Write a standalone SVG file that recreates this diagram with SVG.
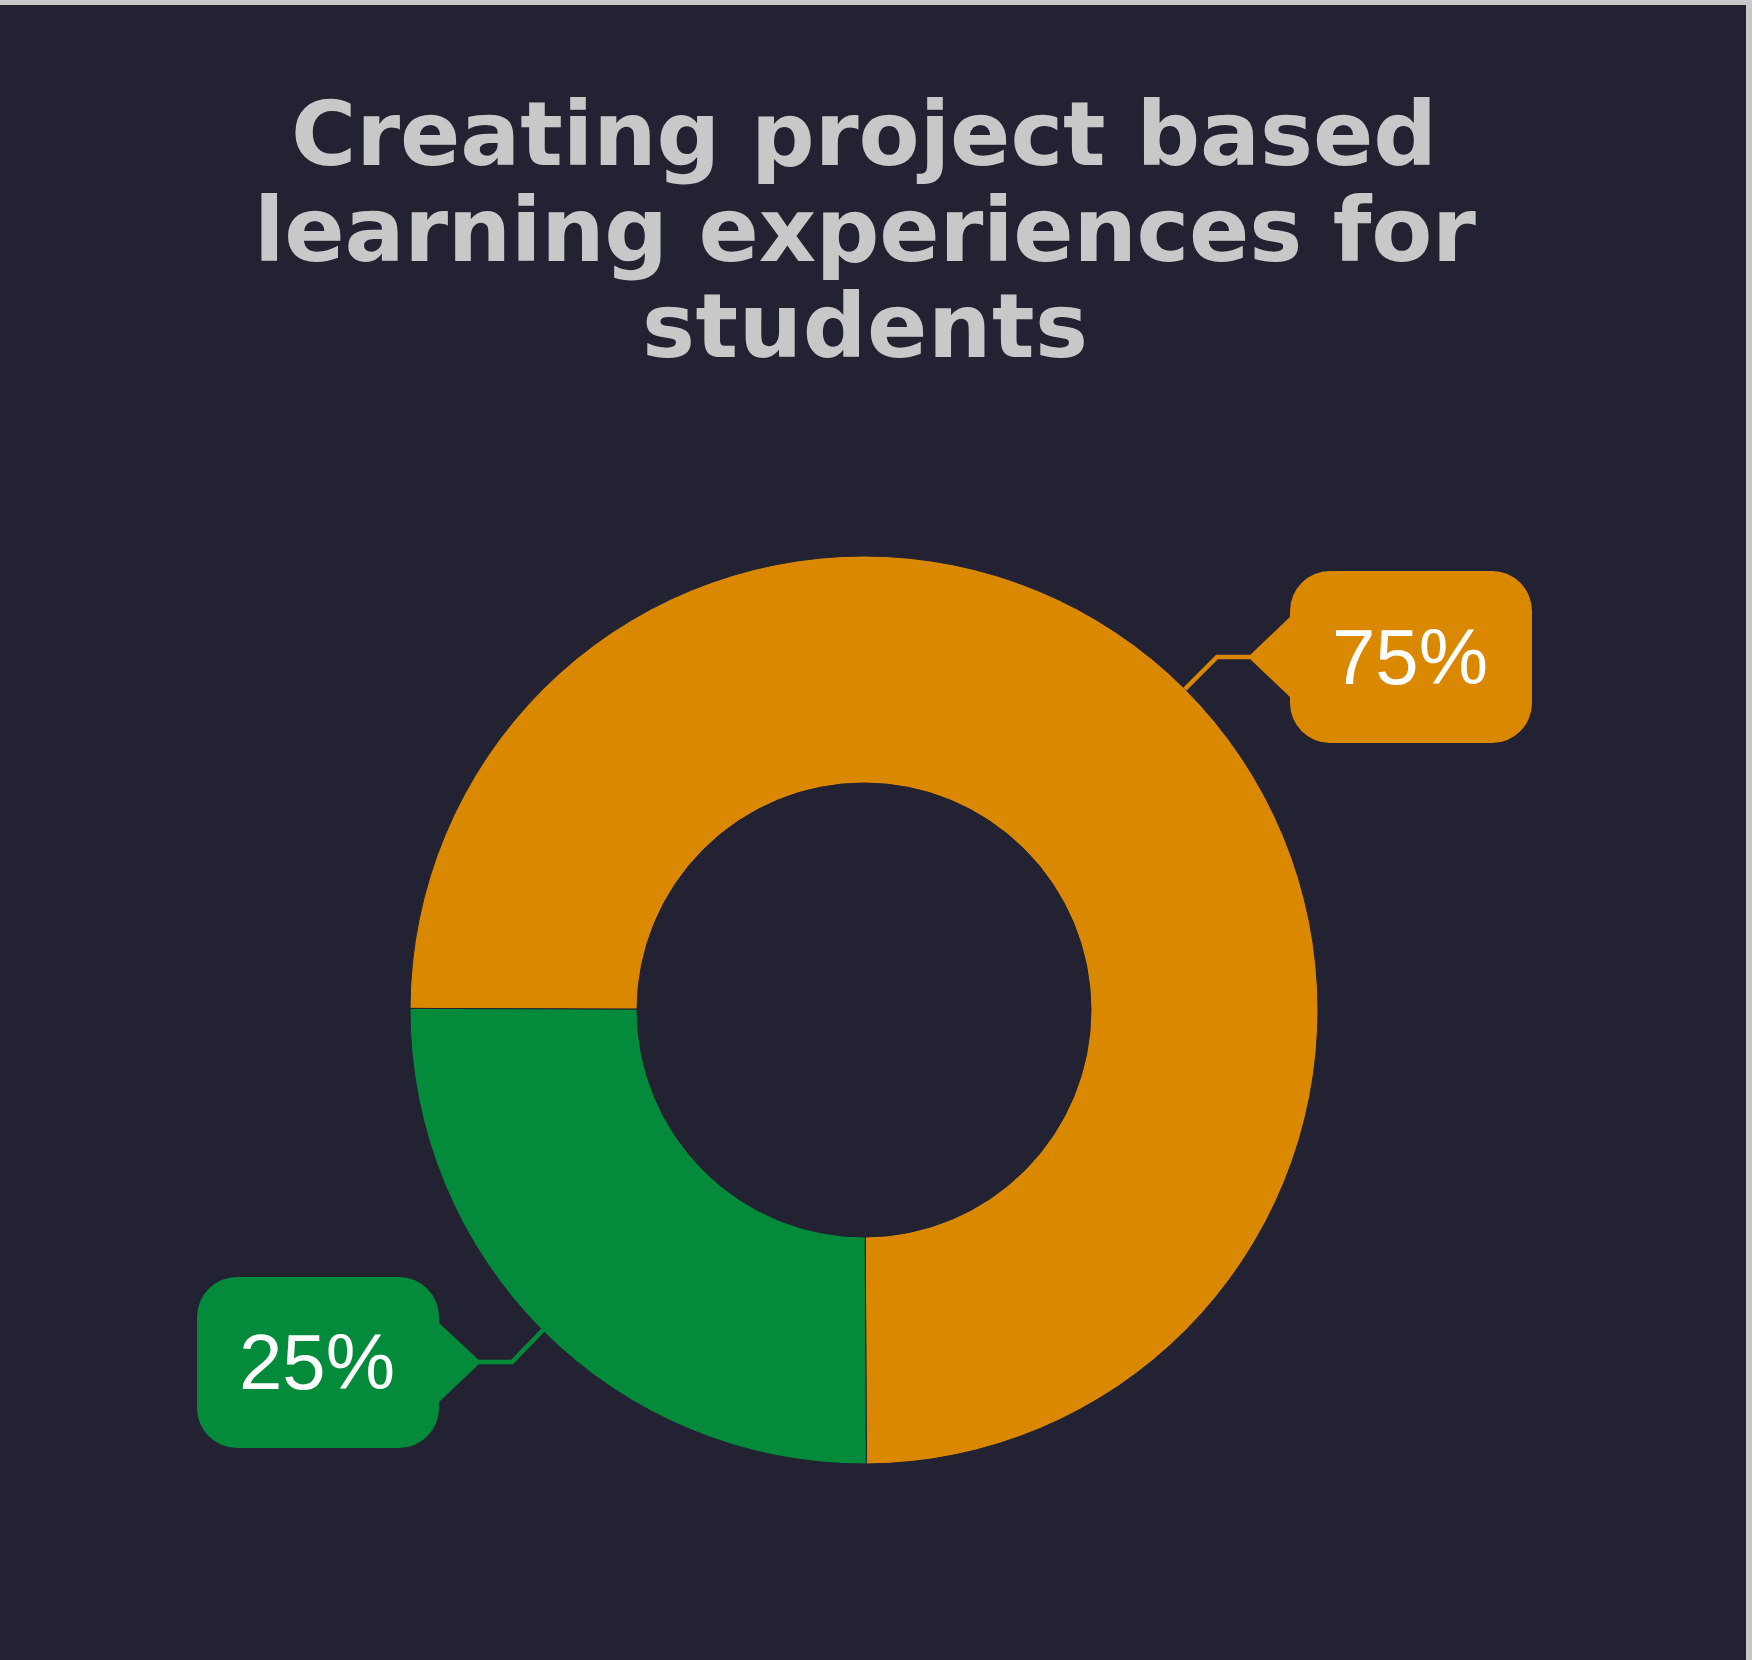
<svg xmlns="http://www.w3.org/2000/svg" width="1752" height="1660" viewBox="0 0 1752 1660">
  <style>
    .title { font-family: "DejaVu Sans", "Liberation Sans", sans-serif; font-weight: bold; font-size: 89px; fill: #c8c8c8; text-anchor: middle; }
    .pct { font-family: "Liberation Sans", Arial, sans-serif; font-size: 78px; fill: #ffffff; text-anchor: middle; }
    .lead { fill: none; stroke-width: 4.5; }
  </style>
  <rect x="0" y="0" width="1752" height="1660" fill="#c8c8c8"/>
  <rect x="0" y="5" width="1746" height="1655" fill="#222233"/>

  <g id="title">
    <text class="title" x="864" y="165" textLength="1146" lengthAdjust="spacing">Creating project based</text>
    <text class="title" x="865" y="261" textLength="1222" lengthAdjust="spacing">learning experiences for</text>
    <text class="title" x="865" y="357" textLength="446" lengthAdjust="spacing">students</text>
  </g>

  <g id="donut">
    <path id="slice-orange" d="M 410.0 1008.42 A 454 454 0 1 1 866.38 1464 L 865.19 1237 A 227 227 0 1 0 637.0 1009.21 Z" fill="#d98800" stroke="#222233" stroke-width="1"/>
    <path id="slice-green" d="M 866.38 1464 A 454 454 0 0 1 410.0 1008.42 L 637.0 1009.21 A 227 227 0 0 0 865.19 1237 Z" fill="#038a3a" stroke="#222233" stroke-width="1"/>
  </g>

  <g id="connectors">
    <polyline class="lead" points="1185,689 1217,657 1250,657" stroke="#d98800"/>
    <polyline class="lead" points="543,1330 512,1362 479,1362" stroke="#038a3a"/>
  </g>

  <g id="label-75">
    <rect x="1290" y="571" width="242" height="172" rx="40" ry="40" fill="#d98800"/>
    <polygon points="1291,616 1248,657 1291,698" fill="#d98800"/>
    <text class="pct" x="1410" y="684">75%</text>
  </g>

  <g id="label-25">
    <rect x="197" y="1277" width="242" height="171" rx="40" ry="40" fill="#038a3a"/>
    <polygon points="438,1322 481,1362 438,1403" fill="#038a3a"/>
    <text class="pct" x="317" y="1389">25%</text>
  </g>
</svg>
